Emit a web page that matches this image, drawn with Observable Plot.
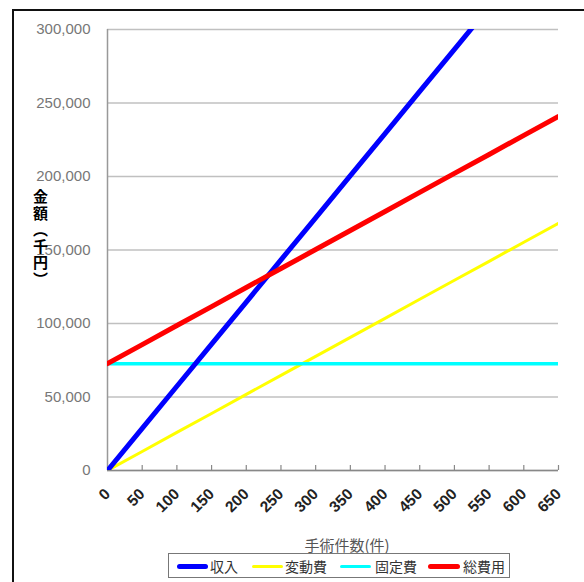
<!DOCTYPE html>
<html><head><meta charset="utf-8">
<script src="https://cdn.jsdelivr.net/npm/d3@7"></script>
<script src="https://cdn.jsdelivr.net/npm/@observablehq/plot@0.6"></script>
<style>
body{margin:0;background:#fff;}
#wrap{position:relative;width:584px;height:582px;overflow:hidden;font-family:"Liberation Sans",Arial,sans-serif;background:#fff;}
#frame{position:absolute;left:12px;top:9px;width:700px;height:700px;border-left:2px solid #111;border-top:2px solid #111;}
#chart{position:absolute;left:0;top:0;}
#ylab{position:absolute;left:31px;top:189px;writing-mode:vertical-rl;font-family:"Noto Sans CJK JP",sans-serif;font-size:15px;font-weight:bold;line-height:18px;letter-spacing:1.5px;color:#000;}
#xlab{position:absolute;left:0;width:694px;top:536px;text-align:center;font-family:"Noto Sans CJK JP",sans-serif;font-size:15px;line-height:18px;color:#555;}
#legend{position:absolute;left:168px;top:553px;width:342px;height:25px;border:1px solid #777;box-sizing:border-box;background:#fff;}
.sw{position:absolute;top:11px;height:5px;border-radius:3px;}
.lt{position:absolute;top:2px;font-family:"Noto Sans CJK JP",sans-serif;font-size:14px;line-height:20px;color:#333;}
</style></head><body>
<div id="wrap">
<div id="frame"></div>
<div id="chart"></div>
<div id="ylab">金額（千円）</div>
<div id="xlab">手術件数(件)</div>
<div id="legend"></div>
</div>
<script>
const cases = [0,50,100,150,200,250,300,350,400,450,500,550,600,650];
const revenue = [0,28700,57300,86000,114600,143300,171900,200600,229200,257900,286500,315200,343800,372500];
const variableCost = [0,12900,25900,38800,51800,64700,77600,90600,103500,116500,129400,142300,155300,168200];
const fixedCost = [72700,72700,72700,72700,72700,72700,72700,72700,72700,72700,72700,72700,72700,72700];
const totalCost = [72700,85600,98600,111500,124500,137400,150300,163300,176200,189200,202100,215000,228000,240900];
const yTicks = [0,50000,100000,150000,200000,250000,300000];
const seriesNames = ["収入","変動費","固定費","総費用"];
const seriesColors = ["#0000ff","#ffff00","#00ffff","#ff0000"];
const seriesWidths = [5,3,3.5,5];
const seriesValues = [revenue, variableCost, fixedCost, totalCost];

const order = [1,2,0,3];
const lineMarks = order.map(s => Plot.line(cases.map((c,i)=>({x:c,y:seriesValues[s][i]})), {
  x:"x", y:"y", stroke: seriesColors[s], strokeWidth: seriesWidths[s], clip:true, strokeLinecap:"round"
}));

const chart = Plot.plot({
  width:584, height:582,
  marginLeft:107, marginRight:26, marginTop:29, marginBottom:112,
  style:{fontFamily:"'Liberation Sans', Arial, sans-serif", background:"transparent"},
  x:{domain:[0,650]},
  y:{domain:[0,300000]},
  marks:[
    Plot.gridY(yTicks, {stroke:"#c0c0c0", strokeOpacity:1, strokeWidth:1.5}),
    Plot.axisY(yTicks, {tickSize:0, tickPadding:17, tickFormat:d3.format(","), fontSize:15, fill:"#777", label:null}),
    Plot.ruleX([0], {stroke:"#999", strokeWidth:1.5}),
    Plot.ruleY([0], {stroke:"#888", strokeWidth:1.5}),
    Plot.ruleX(cases.slice(1), {x:d=>d, y1:0, y2:3400, stroke:"#888", strokeWidth:1.2}),
    Plot.axisX(cases, {tickSize:0, tickRotate:-45, tickPadding:21, fontSize:15.5, fill:"#222", fontWeight:"bold", label:null}),
    ...lineMarks
  ]
});
document.getElementById("chart").appendChild(chart);

const legend = document.getElementById("legend");
const swX = [8,83,171,259];
const swW = [31,31,31,32];
const txX = [41,116,206,294];
seriesNames.forEach((n,i)=>{
  const sw = document.createElement("div");
  sw.className="sw";
  sw.style.left=swX[i]+"px"; sw.style.width=swW[i]+"px";
  sw.style.background=seriesColors[i];
  sw.style.height=(i===0||i===3?5:3)+"px";
  sw.style.top=(i===0||i===3?10:11)+"px";
  legend.appendChild(sw);
  const t = document.createElement("div");
  t.className="lt"; t.style.left=txX[i]+"px"; t.textContent=n;
  legend.appendChild(t);
});
</script>
</body></html>
